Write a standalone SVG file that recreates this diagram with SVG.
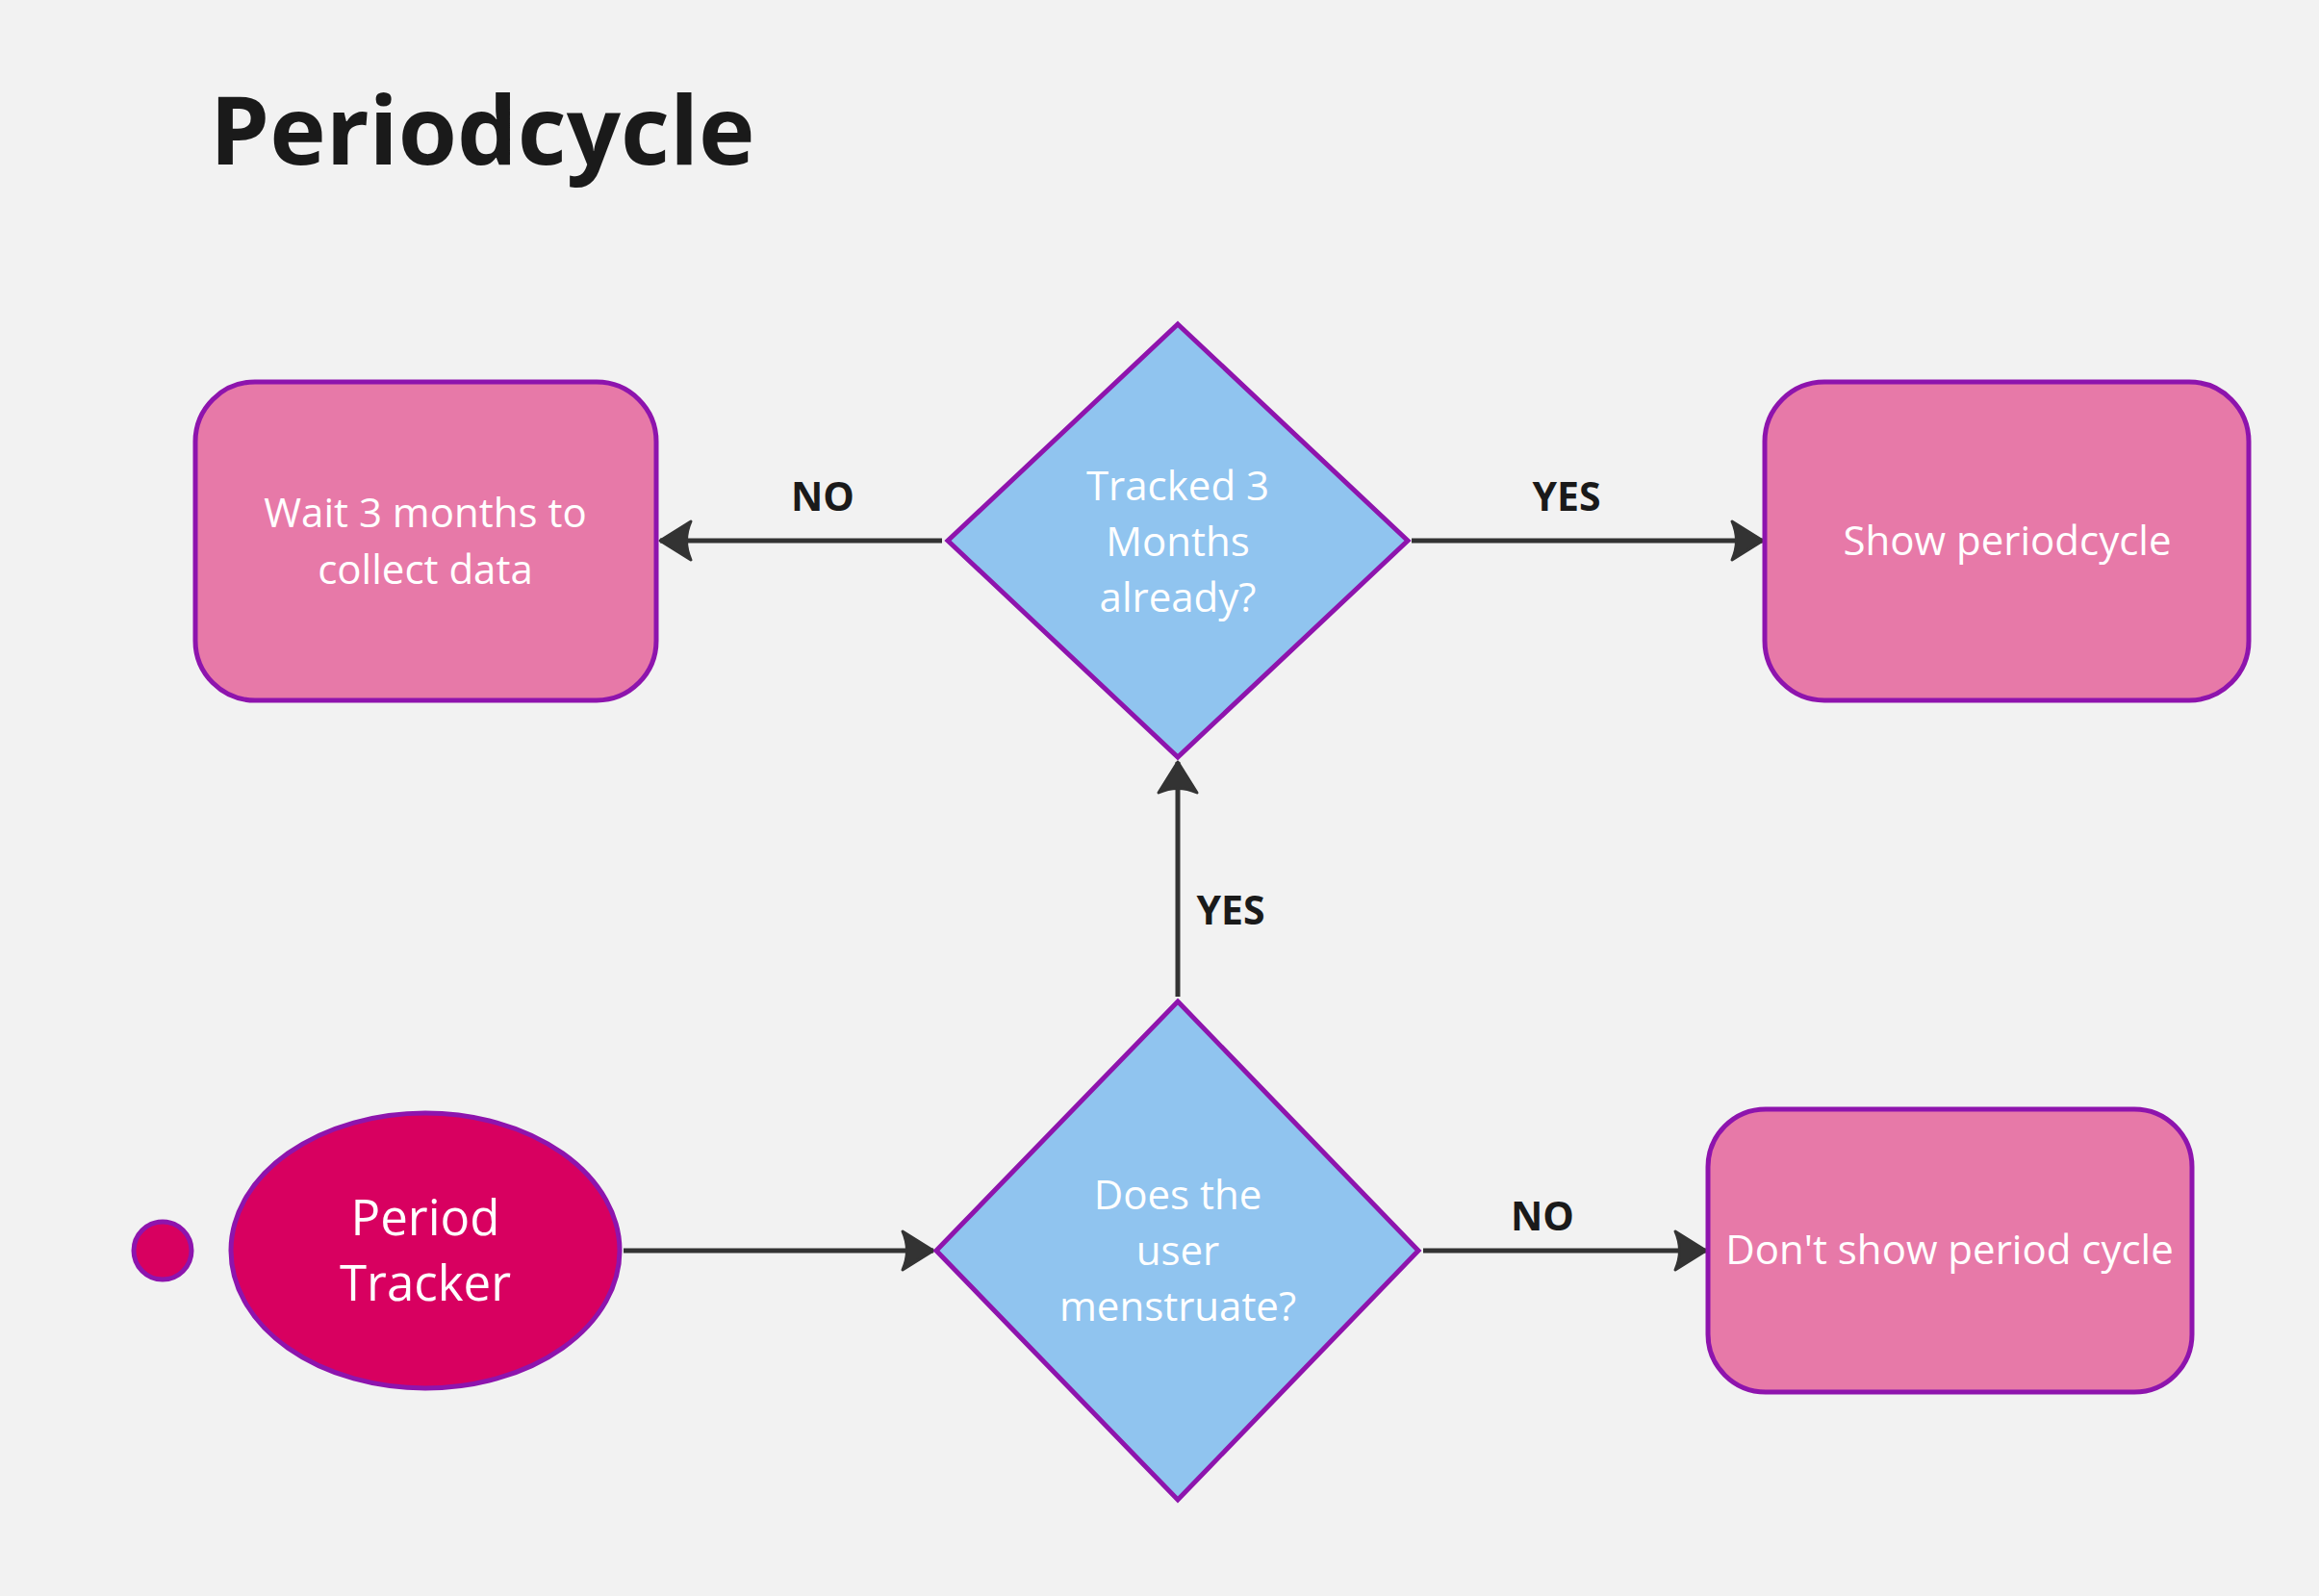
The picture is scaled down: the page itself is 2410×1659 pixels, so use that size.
<svg xmlns="http://www.w3.org/2000/svg" width="2410" height="1659" viewBox="0 0 2410 1659">
<defs>
<style>
.bg{fill:#F2F2F2}
.box{fill:#E779A8;stroke:#8E14AD;stroke-width:5}
.dia{fill:#90C4EF;stroke:#8E14AD;stroke-width:5}
.start{fill:#D80060;stroke:#8E14AD;stroke-width:5}
.t{font-family:"Open Sans","Noto Sans","Liberation Sans",sans-serif;fill:#FFFFFF;font-size:42px;text-anchor:middle}
.big{font-size:51px}
.lbl{font-family:"Open Sans","Noto Sans","Liberation Sans",sans-serif;font-weight:bold;fill:#1A1A1A;font-size:41px;text-anchor:middle}
.title{font-family:"Open Sans","Noto Sans","Liberation Sans",sans-serif;font-weight:bold;fill:#1A1A1A;font-size:99px}
.edge{stroke:#333333;stroke-width:5;fill:none;marker-end:url(#arr)}
</style>
<marker id="arr" viewBox="0 0 38 46" refX="35" refY="23" markerUnits="userSpaceOnUse" markerWidth="38" markerHeight="46" orient="auto">
<path d="M3,3 L35,23 L3,43 Q12,23 3,3 Z" fill="#333333" stroke="#333333" stroke-width="3" stroke-linejoin="round"/>
</marker>
</defs>
<rect class="bg" x="0" y="0" width="2410" height="1659"/>
<text class="title" x="218" y="171">Periodcycle</text>

<g id="connectors">
<line class="edge" x1="979" y1="562" x2="686" y2="562"/>
<line class="edge" x1="1467" y1="562" x2="1832" y2="562"/>
<line class="edge" x1="1224" y1="1036" x2="1224" y2="792"/>
<line class="edge" x1="648" y1="1300" x2="970" y2="1300"/>
<line class="edge" x1="1479" y1="1300" x2="1773" y2="1300"/>
<text class="lbl" x="855" y="531">NO</text>
<text class="lbl" x="1628" y="531">YES</text>
<text class="lbl" x="1279" y="961">YES</text>
<text class="lbl" x="1603" y="1279">NO</text>
</g>

<g id="node-wait">
<rect class="box" x="203" y="397" width="479" height="331" rx="62" ry="62"/>
<text class="t" x="442" y="548">Wait 3 months to</text>
<text class="t" x="442" y="607">collect data</text>
</g>

<g id="node-tracked">
<polygon class="dia" points="1224,337 1463,562 1224,787 985,562"/>
<text class="t" x="1224" y="520">Tracked 3</text>
<text class="t" x="1224" y="578">Months</text>
<text class="t" x="1224" y="636">already?</text>
</g>

<g id="node-show">
<rect class="box" x="1834" y="397" width="503" height="331" rx="62" ry="62"/>
<text class="t" x="2086" y="577">Show periodcycle</text>
</g>

<g id="node-startdot">
<circle class="start" cx="169" cy="1300" r="30"/>
</g>

<g id="node-tracker">
<ellipse class="start" cx="442" cy="1300" rx="202" ry="143"/>
<text class="t big" x="442" y="1284">Period</text>
<text class="t big" x="442" y="1352">Tracker</text>
</g>

<g id="node-menstruate">
<polygon class="dia" points="1224,1041 1474,1300 1224,1559 973,1300"/>
<text class="t" x="1224" y="1257">Does the</text>
<text class="t" x="1224" y="1315">user</text>
<text class="t" x="1224" y="1373">menstruate?</text>
</g>

<g id="node-dontshow">
<rect class="box" x="1775" y="1153" width="503" height="294" rx="60" ry="60"/>
<text class="t" x="2026" y="1314">Don't show period cycle</text>
</g>
</svg>
